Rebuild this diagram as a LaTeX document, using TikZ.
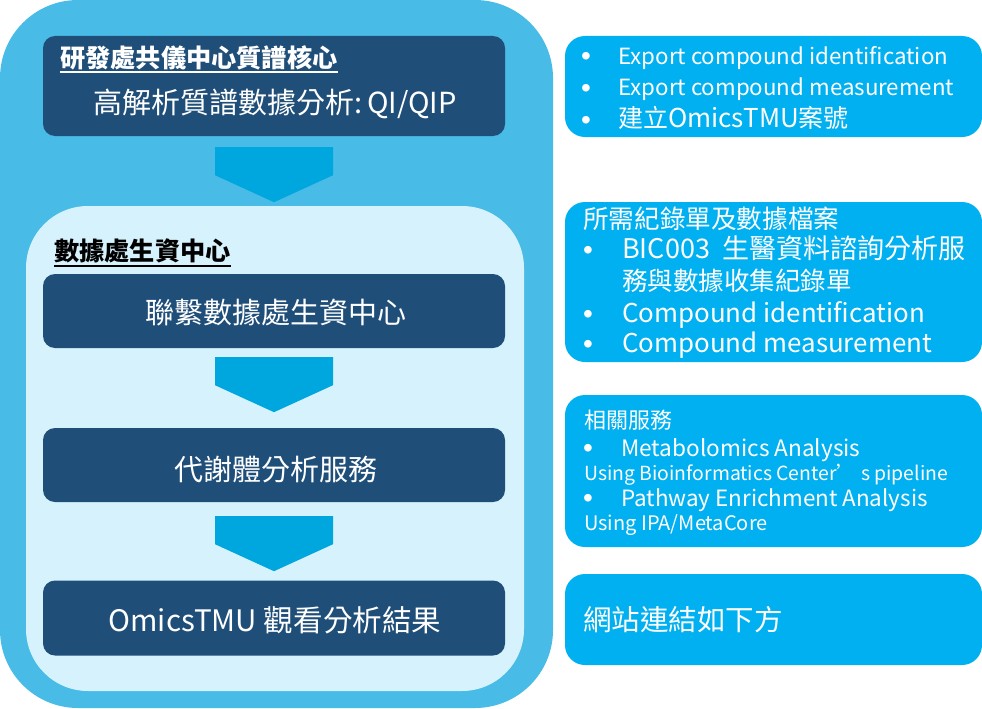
\documentclass[tikz,border=0pt]{standalone}
\usepackage{fontspec}
\setmainfont{Noto Sans CJK TC}
\newfontfamily\bulfont{Liberation Sans}
\usetikzlibrary{calc}
\definecolor{outerc}{RGB}{72,187,230}
\definecolor{innerc}{RGB}{214,243,253}
\definecolor{darkc}{RGB}{31,78,121}
\definecolor{chevc}{RGB}{0,166,222}
\definecolor{rightc}{RGB}{0,176,240}
\newcommand{\fsz}[1]{\fontsize{#1}{#1}\selectfont}
\newcommand{\chevron}[2]{%
  \fill[chevc] ($(#1.south)+(-59,#2)$) -- ($(#1.south)+(59,#2)$) -- ($(#1.south)+(59,#2+28)$)
   -- ($(#1.south)+(0,#2+55)$) -- ($(#1.south)+(-59,#2+28)$) -- cycle;}
\begin{document}
\begin{tikzpicture}[x=1pt,y=-1pt,
  darkbox/.style={fill=darkc, rounded corners=12pt, minimum width=462pt, inner sep=0pt},
  rbox/.style={fill=rightc, rounded corners=20pt},
  wtxt/.style={text=white, inner sep=0pt},
  rtxt/.style={text=white, inner sep=0pt, anchor=base west},
  bul/.style={text=white, inner sep=0pt, anchor=base, font=\bulfont\fsz{28}},
  ]
\useasboundingbox (0,0) rectangle (982,709);
% panels
\fill[outerc, rounded corners=78pt] (0,0) rectangle (553,708);
\fill[innerc, rounded corners=62pt] (26,206) rectangle (524,691);
% dark boxes
\node[darkbox, minimum height=100pt] (b1) at (274,86) {};
\node[darkbox, minimum height=74pt] (b2) at (274,311) {};
\node[darkbox, minimum height=74pt] (b3) at (274,465) {};
\node[darkbox, minimum height=75pt] (b4) at (274,618) {};
% chevrons
\chevron{b1}{11}
\chevron{b2}{9}
\chevron{b3}{14}
% texts in left column
\node[wtxt, anchor=base west, font=\fsz{25.2}\bfseries] (t1h) at (60,67) {研發處共儀中心質譜核心};
\draw[white, line width=1.6pt] ($(t1h.base west)+(0,5)$) -- ($(t1h.base east)+(0,5)$);
\node[wtxt, font=\fsz{29}] (t1) at (275,104) {高解析質譜數據分析:\,QI/QIP};
\node[inner sep=0pt, anchor=base west, font=\fsz{25.2}\bfseries, text=black] (t2h) at (54,260) {數據處生資中心};
\draw[black, line width=1.6pt] ($(t2h.base west)+(0,6)$) -- ($(t2h.base east)+(0,6)$);
\node[wtxt, font=\fsz{29}] (t2) at (276,313) {聯繫數據處生資中心};
\node[wtxt, font=\fsz{29}] (t3) at (276,470) {代謝體分析服務};
\node[wtxt, font=\fsz{29.6}] (t4) at (275,620) {OmicsTMU 觀看分析結果};
% right boxes
\fill[rbox] (565,36) rectangle (982,137);
\fill[rbox] (565,202) rectangle (982,362);
\fill[rbox] (565,395) rectangle (982,547);
\fill[rbox] (565,574) rectangle (982,665);
% box A
\begin{scope}[every node/.style={rtxt, font=\fsz{22.3}}]
\node[bul] (a1b) at (586,66) {•}; \node (a1) at (618,64) {Export compound identification};
\node[bul] (a2b) at (586,97) {•}; \node (a2) at (618,95) {Export compound measurement};
\node[bul] (a3b) at (586,129) {•}; \node (a3) at (618,127) {{\fsz{25}建立}{\fsz{26}OmicsTMU}{\fsz{25}案號}};
\end{scope}
% box B
\node[rtxt, font=\fsz{25.6}] (bh) at (583,228) {所需紀錄單及數據檔案};
\node[bul] (b1b) at (588,259) {•}; \node[rtxt, font=\fsz{27}] (bl1) at (622,258) {BIC003\ \ 生醫資料諮詢分析服};
\node[rtxt, font=\fsz{25.5}] (bl2) at (622,290) {務與數據收集紀錄單};
\node[bul] (b2b) at (588,323) {•}; \node[rtxt, font=\fsz{25.9}] (bl3) at (622,322) {Compound identification};
\node[bul] (b3b) at (588,353) {•}; \node[rtxt, font=\fsz{25.9}] (bl4) at (622,352) {Compound measurement};
% box C
\node[rtxt, font=\fsz{22}] (ch) at (584,428) {相關服務};
\node[bul] (c1b) at (588,457) {•};
\node[rtxt, font=\fsz{22.6}] (c1) at (621,456) {Metabolomics Analysis};
\node[rtxt, font=\fsz{19.4}] (c2) at (584,480) {Using Bioinformatics Center’\hspace{0.25em}s pipeline};
\node[bul] (c3b) at (588,507) {•};
\node[rtxt, font=\fsz{22.4}] (c3) at (621,506) {Pathway Enrichment Analysis};
\node[rtxt, font=\fsz{20}] (c4) at (584,530) {Using IPA/MetaCore};
% box D
\node[wtxt, anchor=west, font=\fsz{28.5}] (d1) at (583,620) {網站連結如下方};
\end{tikzpicture}
\end{document}
